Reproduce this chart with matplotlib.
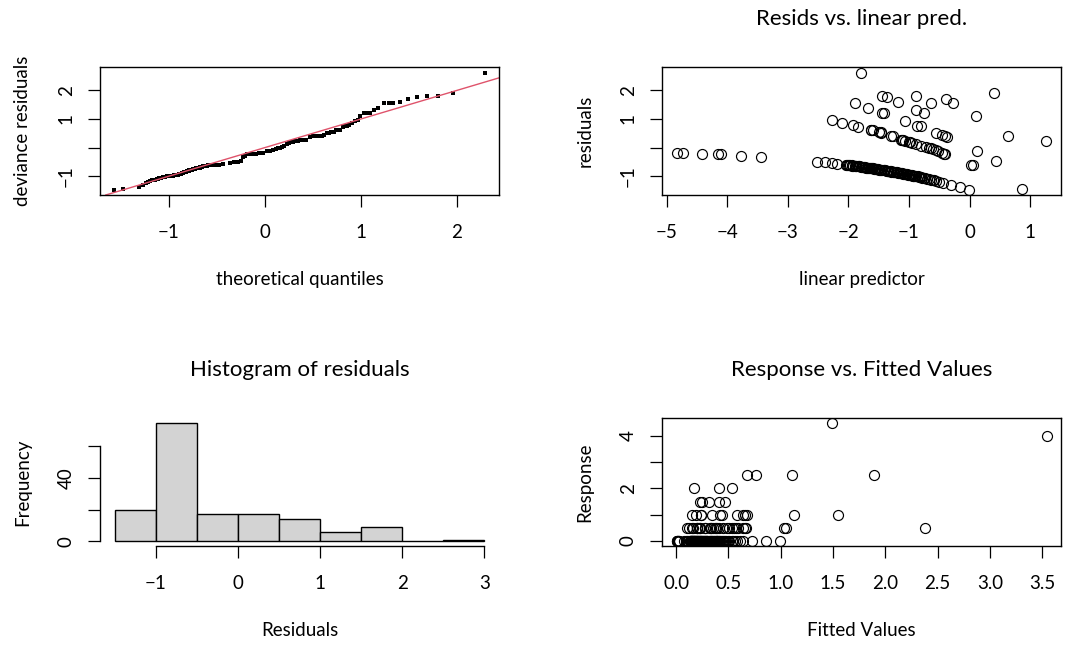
import matplotlib
matplotlib.use("Agg")
import matplotlib.pyplot as plt
import numpy as np

plt.rcParams['font.family'] = ['Lato', 'DejaVu Sans']
plt.rcParams['axes.unicode_minus'] = True

# ---------------- data ----------------
# observations with response 0
zero_lin_pred = [-4.84, -4.73, -4.42, -4.16, -4.10, -3.78, -3.45,
                 -2.52, -2.39, -2.28, -2.19,
                 -2.04, -2.02, -2.01, -1.99, -1.97, -1.95, -1.94, -1.92, -1.90, -1.88,
                 -1.87, -1.85, -1.83, -1.82, -1.80, -1.78, -1.76, -1.75, -1.73, -1.71,
                 -1.70, -1.68, -1.66, -1.65, -1.63, -1.61, -1.59, -1.58, -1.56, -1.54,
                 -1.53, -1.51, -1.49, -1.48, -1.46, -1.44, -1.42, -1.41, -1.39, -1.37,
                 -1.36, -1.34, -1.32, -1.30, -1.29, -1.27, -1.25, -1.24, -1.22, -1.20,
                 -1.19, -1.17, -1.15, -1.13, -1.12, -1.10, -1.08, -1.07, -1.05, -1.03,
                 -1.01, -1.00, -0.98, -0.96, -0.95, -0.94, -0.93, -0.92, -0.90,
                 -0.88, -0.86, -0.84, -0.82, -0.80, -0.78, -0.76, -0.73, -0.70, -0.67,
                 -0.64, -0.61, -0.58, -0.55, -0.50, -0.44, -0.31, -0.15, -0.01]
zero_resid = [-0.19, -0.19, -0.21, -0.23, -0.23, -0.28, -0.33,
              -0.51, -0.52, -0.55, -0.57,
              -0.60, -0.61, -0.61, -0.61, -0.62, -0.62, -0.63, -0.63, -0.64, -0.64,
              -0.65, -0.65, -0.66, -0.66, -0.67, -0.67, -0.68, -0.68, -0.69, -0.70,
              -0.70, -0.70, -0.71, -0.71, -0.72, -0.73, -0.73, -0.74, -0.74, -0.75,
              -0.75, -0.76, -0.77, -0.77, -0.78, -0.78, -0.79, -0.79, -0.80, -0.81,
              -0.81, -0.82, -0.83, -0.83, -0.84, -0.84, -0.85, -0.86, -0.86, -0.87,
              -0.88, -0.88, -0.89, -0.90, -0.90, -0.91, -0.92, -0.92, -0.93, -0.94,
              -0.95, -0.95, -0.96, -0.97, -0.97, -0.98, -0.98, -0.99, -0.99,
              -1.01, -1.01, -1.02, -1.03, -1.04, -1.05, -1.06, -1.08, -1.09, -1.10,
              -1.12, -1.13, -1.15, -1.17, -1.20, -1.23, -1.30, -1.39, -1.48]
zero_fitted = [0.008, 0.009, 0.012, 0.016, 0.017, 0.023, 0.032,
               0.08, 0.09, 0.10, 0.11,
               0.13, 0.13, 0.13, 0.14, 0.14, 0.14, 0.14, 0.15, 0.15, 0.15,
               0.15, 0.16, 0.16, 0.16, 0.17, 0.17, 0.17, 0.17, 0.18, 0.18,
               0.18, 0.19, 0.19, 0.19, 0.20, 0.20, 0.20, 0.21, 0.21, 0.21,
               0.22, 0.22, 0.23, 0.23, 0.23, 0.24, 0.24, 0.24, 0.25, 0.25,
               0.26, 0.26, 0.27, 0.27, 0.28, 0.28, 0.29, 0.29, 0.30, 0.30,
               0.30, 0.31, 0.32, 0.32, 0.33, 0.33, 0.34, 0.34, 0.35, 0.36,
               0.36, 0.37, 0.38, 0.38, 0.39, 0.39, 0.39, 0.40, 0.41,
               0.41, 0.42, 0.43, 0.44, 0.45, 0.46, 0.47, 0.48, 0.50, 0.51,
               0.53, 0.54, 0.56, 0.58, 0.61, 0.64, 0.73, 0.86, 0.99]

# observations with response 0.5
half_lin_pred = [-2.27, -2.10, -1.93, -1.84, -1.63, -1.62, -1.60, -1.50, -1.47, -1.46,
                 -1.29, -1.27, -1.14, -1.12, -1.10, -1.06, -1.00, -0.98, -0.95, -0.88,
                 -0.80, -0.72, -0.67, -0.63, -0.60, -0.56, -0.52, -0.45, -0.42, -0.40,
                 0.03, 0.05, 0.87]
half_resid = [0.97, 0.87, 0.79, 0.73, 0.63, 0.62, 0.60, 0.56, 0.53, 0.52,
              0.40, 0.39, 0.28, 0.27, 0.26, 0.23, 0.19, 0.18, 0.16, 0.12,
              0.06, 0.01, -0.01, -0.03, -0.05, -0.08, -0.11, -0.18, -0.22, -0.24,
              -0.60, -0.60, -1.44]
half_fitted = [0.10, 0.12, 0.15, 0.16, 0.20, 0.20, 0.20, 0.22, 0.23, 0.23,
               0.28, 0.28, 0.32, 0.33, 0.33, 0.35, 0.37, 0.38, 0.39, 0.41,
               0.45, 0.49, 0.51, 0.53, 0.55, 0.57, 0.59, 0.64, 0.66, 0.67,
               1.03, 1.05, 2.38]

# observations with larger responses
other_lin_pred = [-1.90, -1.67, -1.44, -1.42, -1.07, -0.87, -0.81, -0.55, -0.45, -0.41,
                  -0.38, 0.12, 0.44,
                  -1.45, -1.37, -1.18, -0.89, -0.76,
                  -1.79, -0.89, -0.63,
                  -0.39, -0.28, 0.10, 0.64,
                  1.27, 0.40]
other_resid = [1.55, 1.38, 1.22, 1.21, 0.93, 0.77, 0.74, 0.52, 0.44, 0.41,
               0.36, -0.12, -0.47,
               1.81, 1.76, 1.58, 1.33, 1.21,
               2.62, 1.81, 1.55,
               1.70, 1.56, 1.12, 0.41,
               0.22, 1.91]
other_fitted = [0.15, 0.19, 0.24, 0.24, 0.34, 0.42, 0.44, 0.58, 0.64, 0.66,
                0.68, 1.13, 1.55,
                0.23, 0.25, 0.31, 0.41, 0.47,
                0.17, 0.41, 0.53,
                0.68, 0.76, 1.11, 1.89,
                3.55, 1.49]
other_response = [1.0, 1.0, 1.0, 1.0, 1.0, 1.0, 1.0, 1.0, 1.0, 1.0,
                  1.0, 1.0, 1.0,
                  1.5, 1.5, 1.5, 1.5, 1.5,
                  2.0, 2.0, 2.0,
                  2.5, 2.5, 2.5, 2.5,
                  4.0, 4.5]

# theoretical quantiles for the sorted deviance residuals (QQ plot)
theoretical_q = [-1.57, -1.48, -1.31, -1.27, -1.24, -1.22, -1.20, -1.18, -1.16, -1.15,
                 -1.13, -1.12, -1.10, -1.09, -1.08, -1.06, -1.05, -1.04, -1.02, -1.01,
                 -0.99, -0.98, -0.97, -0.96, -0.95, -0.94, -0.93, -0.92, -0.91, -0.90,
                 -0.89, -0.885, -0.88, -0.875, -0.87, -0.865, -0.86, -0.855, -0.85, -0.845,
                 -0.84, -0.835, -0.83, -0.825, -0.82, -0.815, -0.81, -0.805, -0.80, -0.795,
                 -0.79, -0.785, -0.78, -0.775, -0.77, -0.765, -0.76, -0.75, -0.745, -0.74,
                 -0.735, -0.73, -0.72, -0.715, -0.71, -0.70, -0.695, -0.69, -0.685, -0.68,
                 -0.675, -0.67, -0.665, -0.66, -0.655, -0.65, -0.645, -0.64, -0.635, -0.63,
                 -0.62, -0.61, -0.60, -0.59, -0.58, -0.57, -0.56, -0.54, -0.52, -0.50,
                 -0.48, -0.44, -0.36, -0.32, -0.28,
                 -0.25, -0.23, -0.21, -0.19, -0.17, -0.15, -0.12, -0.09, -0.06, -0.04,
                 -0.02, 0.02, 0.05, 0.08, 0.11, 0.14, 0.16,
                 0.18, 0.20, 0.23, 0.25, 0.27, 0.29, 0.31, 0.34, 0.37, 0.40,
                 0.43, 0.47, 0.50, 0.53, 0.56, 0.59, 0.62,
                 0.65, 0.67, 0.69, 0.72, 0.74, 0.76, 0.78, 0.81, 0.83, 0.86,
                 0.88, 0.91, 0.94, 0.97,
                 0.99, 1.03, 1.05, 1.10, 1.14, 1.18,
                 1.24, 1.29, 1.34, 1.41, 1.49, 1.58, 1.69, 1.80, 1.96,
                 2.29]

hist_breaks = [-1.5, -1.0, -0.5, 0.0, 0.5, 1.0, 1.5, 2.0, 2.5, 3.0]

titles = ["", "Resids vs. linear pred.", "Histogram of residuals", "Response vs. Fitted Values"]
xlabels = ["theoretical quantiles", "linear predictor", "Residuals", "Fitted Values"]
ylabels = ["deviance residuals", "residuals", "Frequency", "Response"]

# ---------------- assemble ----------------
lin_pred = np.array(zero_lin_pred + half_lin_pred + other_lin_pred)
resid = np.array(zero_resid + half_resid + other_resid)
fitted = np.array(zero_fitted + half_fitted + other_fitted)
response = np.array([0.0] * len(zero_fitted) + [0.5] * len(half_fitted) + other_response)

# ---------------- figure ----------------
W, H = 1083, 645
fig = plt.figure(figsize=(W / 100, H / 100), dpi=100)


def ax_at(x0, y0, x1, y1):
    return fig.add_axes([x0 / W, 1 - y1 / H, (x1 - x0) / W, (y1 - y0) / H])


LAB = 13.5
TITLE = 16
TICK_LEN = 8.6


def style(ax, i):
    ax.tick_params(axis='both', direction='out', length=TICK_LEN, width=0.9,
                   labelsize=LAB, color='black')
    ax.tick_params(axis='x', pad=12)
    ax.tick_params(axis='y', pad=9.5)
    for lab in ax.get_yticklabels():
        lab.set_rotation(90)
        lab.set_va('center')
        lab.set_ha('right')
    for s in ax.spines.values():
        s.set_linewidth(1.0)
    ax.set_xlabel(xlabels[i], fontsize=LAB)
    ax.set_ylabel(ylabels[i], fontsize=LAB)
    bbox = ax.get_position()
    hpx = bbox.height * H
    wpx = bbox.width * W
    ax.xaxis.set_label_coords(0.5, -85 / hpx)
    ax.xaxis.label.set_va('center')
    ax.yaxis.set_label_coords(-77 / wpx, 0.5)
    ax.yaxis.label.set_va('center')
    if titles[i]:
        ax.text(0.5, 1 + 48 / hpx, titles[i], transform=ax.transAxes,
                ha='center', va='center', fontsize=TITLE)


# 1. QQ plot
ax1 = ax_at(100, 67, 499, 195)
ax1.plot(theoretical_q, np.sort(resid), linestyle='none', marker='s',
         markersize=2.2, markeredgewidth=0, color='black')
ax1.axline((0, 0), slope=1, color='#DF536B', lw=1.0)
ax1.set_xlim(-1.72, 2.44)
ax1.set_ylim(-1.66, 2.82)
ax1.set_xticks([-1, 0, 1, 2])
ax1.set_xticklabels(['\u22121', '0', '1', '2'])
ax1.set_yticks([-1, 0, 1, 2])
ax1.set_yticklabels(['\u22121', '', '1', '2'])
style(ax1, 0)

# 2. residuals vs linear predictor
ax2 = ax_at(662, 67, 1061, 195)
ax2.plot(lin_pred, resid, linestyle='none', marker='o', markersize=7.2,
         markerfacecolor='none', markeredgecolor='black', markeredgewidth=0.85)
ax2.set_xlim(-5.08, 1.51)
ax2.set_ylim(-1.66, 2.82)
ax2.set_xticks([-5, -4, -3, -2, -1, 0, 1])
ax2.set_xticklabels(['\u22125', '\u22124', '\u22123', '\u22122', '\u22121', '0', '1'])
ax2.set_yticks([-1, 0, 1, 2])
ax2.set_yticklabels(['\u22121', '', '1', '2'])
style(ax2, 1)

# 3. histogram
ax3 = ax_at(100, 418, 499, 546)
ax3.hist(resid, bins=hist_breaks, facecolor='#D3D3D3', edgecolor='black', linewidth=1.0)
ax3.set_xlim(-1.68, 3.18)
ax3.set_ylim(-3, 78)
ax3.set_xticks([-1, 0, 1, 2, 3])
ax3.set_xticklabels(['\u22121', '0', '1', '2', '3'])
ax3.set_yticks([0, 20, 40, 60])
ax3.set_yticklabels(['0', '', '40', ''])
ax3.spines['top'].set_visible(False)
ax3.spines['right'].set_visible(False)
ax3.spines['bottom'].set_bounds(-1, 3)
ax3.spines['left'].set_bounds(0, 60)
style(ax3, 2)

# 4. response vs fitted
ax4 = ax_at(662, 418, 1061, 546)
ax4.plot(fitted, response, linestyle='none', marker='o', markersize=7.2,
         markerfacecolor='none', markeredgecolor='black', markeredgewidth=0.85)
ax4.set_xlim(-0.135, 3.68)
ax4.set_ylim(-0.19, 4.68)
ax4.set_xticks([0.0, 0.5, 1.0, 1.5, 2.0, 2.5, 3.0, 3.5])
ax4.set_xticklabels(['0.0', '0.5', '1.0', '1.5', '2.0', '2.5', '3.0', '3.5'])
ax4.set_yticks([0, 1, 2, 3, 4])
ax4.set_yticklabels(['0', '', '2', '', '4'])
style(ax4, 3)

fig.savefig('out.png', dpi=100)
